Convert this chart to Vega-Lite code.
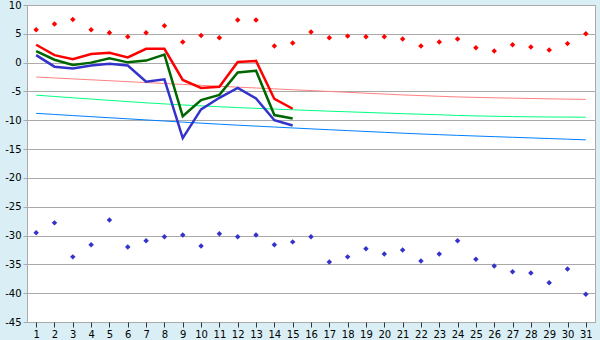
{
  "$schema": "https://vega.github.io/schema/vega-lite/v6.json",
  "width": 568,
  "height": 317,
  "autosize": "none",
  "padding": {"left": 27, "top": 5, "right": 5, "bottom": 18},
  "background": "#D9EFF5",
  "config": {
    "view": {"fill": "white", "stroke": "#AAAAAA", "strokeWidth": 1},
    "axis": {"labelFont": "DejaVu Sans", "labelFontSize": 10, "labelColor": "#000000", "domainColor": "#AAAAAA", "gridColor": "#AAAAAA", "title": null, "labelOverlap": false, "labelExpr": "datum.value + ''"},
    "axisX": {"tickColor": "#333333"},
    "axisY": {"tickColor": "#AAAAAA"}
  },
  "data": {"values": [
    {"day": 1, "rmax": 5.7, "rmin": -29.5, "max": 3.1, "mean": 2.0, "min": 1.3, "nmax": -2.5, "nmean": -5.64, "nmin": -8.8},
    {"day": 2, "rmax": 6.7, "rmin": -27.8, "max": 1.3, "mean": 0.5, "min": -0.7, "nmax": -2.66, "nmean": -5.87, "nmin": -8.99},
    {"day": 3, "rmax": 7.5, "rmin": -33.7, "max": 0.6, "mean": -0.4, "min": -1.0, "nmax": -2.82, "nmean": -6.1, "nmin": -9.18},
    {"day": 4, "rmax": 5.7, "rmin": -31.6, "max": 1.5, "mean": 0.0, "min": -0.5, "nmax": -2.98, "nmean": -6.32, "nmin": -9.37},
    {"day": 5, "rmax": 5.2, "rmin": -27.3, "max": 1.7, "mean": 0.75, "min": -0.2, "nmax": -3.14, "nmean": -6.54, "nmin": -9.56},
    {"day": 6, "rmax": 4.5, "rmin": -32.0, "max": 0.9, "mean": 0.05, "min": -0.5, "nmax": -3.3, "nmean": -6.76, "nmin": -9.75},
    {"day": 7, "rmax": 5.2, "rmin": -30.9, "max": 2.4, "mean": 0.35, "min": -3.3, "nmax": -3.46, "nmean": -6.97, "nmin": -9.94},
    {"day": 8, "rmax": 6.4, "rmin": -30.2, "max": 2.4, "mean": 1.4, "min": -2.9, "nmax": -3.62, "nmean": -7.16, "nmin": -10.13},
    {"day": 9, "rmax": 3.6, "rmin": -29.9, "max": -3.0, "mean": -9.3, "min": -13.1, "nmax": -3.78, "nmean": -7.34, "nmin": -10.32},
    {"day": 10, "rmax": 4.7, "rmin": -31.8, "max": -4.4, "mean": -6.5, "min": -8.1, "nmax": -3.94, "nmean": -7.5, "nmin": -10.5},
    {"day": 11, "rmax": 4.3, "rmin": -29.7, "max": -4.2, "mean": -5.6, "min": -6.1, "nmax": -4.1, "nmean": -7.65, "nmin": -10.68},
    {"day": 12, "rmax": 7.4, "rmin": -30.2, "max": 0.1, "mean": -1.7, "min": -4.4, "nmax": -4.25, "nmean": -7.8, "nmin": -10.85},
    {"day": 13, "rmax": 7.4, "rmin": -29.9, "max": 0.3, "mean": -1.4, "min": -6.2, "nmax": -4.4, "nmean": -7.93, "nmin": -11.01},
    {"day": 14, "rmax": 2.9, "rmin": -31.6, "max": -6.3, "mean": -9.1, "min": -10.0, "nmax": -4.55, "nmean": -8.06, "nmin": -11.17},
    {"day": 15, "rmax": 3.4, "rmin": -31.1, "max": -8.0, "mean": -9.7, "min": -10.9, "nmax": -4.7, "nmean": -8.18, "nmin": -11.33},
    {"day": 16, "rmax": 5.3, "rmin": -30.2, "max": null, "mean": null, "min": null, "nmax": -4.85, "nmean": -8.3, "nmin": -11.49},
    {"day": 17, "rmax": 4.3, "rmin": -34.6, "max": null, "mean": null, "min": null, "nmax": -5.0, "nmean": -8.42, "nmin": -11.64},
    {"day": 18, "rmax": 4.6, "rmin": -33.7, "max": null, "mean": null, "min": null, "nmax": -5.15, "nmean": -8.53, "nmin": -11.79},
    {"day": 19, "rmax": 4.5, "rmin": -32.3, "max": null, "mean": null, "min": null, "nmax": -5.3, "nmean": -8.64, "nmin": -11.94},
    {"day": 20, "rmax": 4.5, "rmin": -33.2, "max": null, "mean": null, "min": null, "nmax": -5.45, "nmean": -8.75, "nmin": -12.09},
    {"day": 21, "rmax": 4.1, "rmin": -32.5, "max": null, "mean": null, "min": null, "nmax": -5.6, "nmean": -8.85, "nmin": -12.24},
    {"day": 22, "rmax": 2.9, "rmin": -34.4, "max": null, "mean": null, "min": null, "nmax": -5.72, "nmean": -8.95, "nmin": -12.38},
    {"day": 23, "rmax": 3.6, "rmin": -33.2, "max": null, "mean": null, "min": null, "nmax": -5.84, "nmean": -9.04, "nmin": -12.5},
    {"day": 24, "rmax": 4.1, "rmin": -30.9, "max": null, "mean": null, "min": null, "nmax": -5.95, "nmean": -9.17, "nmin": -12.62},
    {"day": 25, "rmax": 2.6, "rmin": -34.1, "max": null, "mean": null, "min": null, "nmax": -6.03, "nmean": -9.24, "nmin": -12.73},
    {"day": 26, "rmax": 2.0, "rmin": -35.3, "max": null, "mean": null, "min": null, "nmax": -6.1, "nmean": -9.3, "nmin": -12.84},
    {"day": 27, "rmax": 3.1, "rmin": -36.3, "max": null, "mean": null, "min": null, "nmax": -6.16, "nmean": -9.36, "nmin": -12.95},
    {"day": 28, "rmax": 2.7, "rmin": -36.5, "max": null, "mean": null, "min": null, "nmax": -6.22, "nmean": -9.4, "nmin": -13.06},
    {"day": 29, "rmax": 2.2, "rmin": -38.2, "max": null, "mean": null, "min": null, "nmax": -6.28, "nmean": -9.43, "nmin": -13.17},
    {"day": 30, "rmax": 3.3, "rmin": -35.8, "max": null, "mean": null, "min": null, "nmax": -6.33, "nmean": -9.45, "nmin": -13.28},
    {"day": 31, "rmax": 5.0, "rmin": -40.2, "max": null, "mean": null, "min": null, "nmax": -6.38, "nmean": -9.47, "nmin": -13.4}
  ]},
  "encoding": {
    "x": {"field": "day", "type": "quantitative",
      "scale": {"domain": [0.5, 31.5], "nice": false, "zero": false},
      "axis": {"values": [1,2,3,4,5,6,7,8,9,10,11,12,13,14,15,16,17,18,19,20,21,22,23,24,25,26,27,28,29,30,31], "grid": false, "tickSize": 5, "labelPadding": 2, "domain": false, "labelFlush": false}}
  },
  "layer": [
    {"mark": {"type": "line", "color": "#FF8080", "strokeWidth": 1}, "encoding": {"y": {"field": "nmax", "type": "quantitative", "scale": {"domain": [-45, 10], "nice": false}, "axis": {"values": [-45,-40,-35,-30,-25,-20,-15,-10,-5,0,5,10], "grid": true, "tickSize": 4, "labelPadding": 2, "labelFlush": false}}}},
    {"mark": {"type": "line", "color": "#00FF80", "strokeWidth": 1}, "encoding": {"y": {"field": "nmean", "type": "quantitative", "scale": {"domain": [-45, 10], "nice": false}, "axis": {"values": [-45,-40,-35,-30,-25,-20,-15,-10,-5,0,5,10], "grid": true, "tickSize": 4, "labelPadding": 2, "labelFlush": false}}}},
    {"mark": {"type": "line", "color": "#0080FF", "strokeWidth": 1}, "encoding": {"y": {"field": "nmin", "type": "quantitative", "scale": {"domain": [-45, 10], "nice": false}, "axis": {"values": [-45,-40,-35,-30,-25,-20,-15,-10,-5,0,5,10], "grid": true, "tickSize": 4, "labelPadding": 2, "labelFlush": false}}}},
    {"mark": {"type": "line", "color": "#FF0000", "strokeWidth": 2.5}, "encoding": {"y": {"field": "max", "type": "quantitative", "scale": {"domain": [-45, 10], "nice": false}, "axis": {"values": [-45,-40,-35,-30,-25,-20,-15,-10,-5,0,5,10], "grid": true, "tickSize": 4, "labelPadding": 2, "labelFlush": false}}}},
    {"mark": {"type": "line", "color": "#006600", "strokeWidth": 2.5}, "encoding": {"y": {"field": "mean", "type": "quantitative", "scale": {"domain": [-45, 10], "nice": false}, "axis": {"values": [-45,-40,-35,-30,-25,-20,-15,-10,-5,0,5,10], "grid": true, "tickSize": 4, "labelPadding": 2, "labelFlush": false}}}},
    {"mark": {"type": "line", "color": "#3333CC", "strokeWidth": 2.5}, "encoding": {"y": {"field": "min", "type": "quantitative", "scale": {"domain": [-45, 10], "nice": false}, "axis": {"values": [-45,-40,-35,-30,-25,-20,-15,-10,-5,0,5,10], "grid": true, "tickSize": 4, "labelPadding": 2, "labelFlush": false}}}},
    {"mark": {"type": "point", "shape": "diamond", "filled": true, "color": "#FF0000", "size": 30, "opacity": 1}, "encoding": {"y": {"field": "rmax", "type": "quantitative", "scale": {"domain": [-45, 10], "nice": false}, "axis": {"values": [-45,-40,-35,-30,-25,-20,-15,-10,-5,0,5,10], "grid": true, "tickSize": 4, "labelPadding": 2, "labelFlush": false}}}},
    {"mark": {"type": "point", "shape": "diamond", "filled": true, "color": "#3333CC", "size": 30, "opacity": 1}, "encoding": {"y": {"field": "rmin", "type": "quantitative", "scale": {"domain": [-45, 10], "nice": false}, "axis": {"values": [-45,-40,-35,-30,-25,-20,-15,-10,-5,0,5,10], "grid": true, "tickSize": 4, "labelPadding": 2, "labelFlush": false}}}}
  ]
}
